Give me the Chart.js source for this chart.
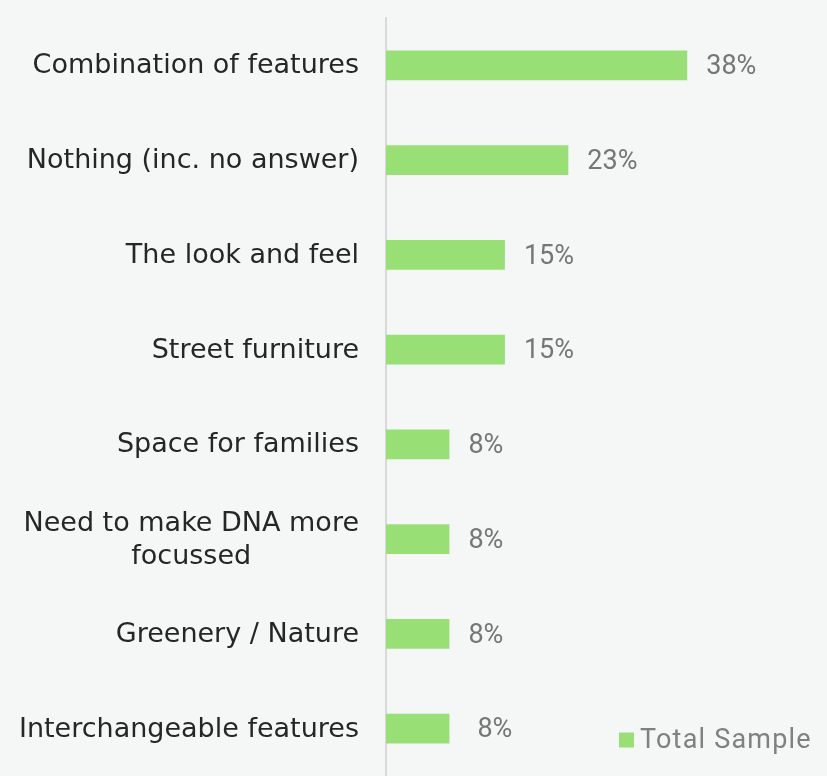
<!DOCTYPE html>
<html>
<head>
<meta charset="utf-8">
<script src="https://cdn.jsdelivr.net/npm/chart.js@4/dist/chart.umd.min.js"></script>
<style>
  html, body { margin: 0; padding: 0; background: #f5f6f6; }
  #wrap { width: 827px; height: 776px; position: relative; }
</style>
</head>
<body>
<div id="wrap"><canvas id="chart"></canvas></div>
<script>
// Survey answers and their share of the total sample (%)
const categories = [
  'Combination of features',
  'Nothing (inc. no answer)',
  'The look and feel',
  'Street furniture',
  'Space for families',
  ['Need to make DNA more', 'focussed'],
  'Greenery / Nature',
  'Interchangeable features'
];
const totalSample = [38, 23, 15, 15, 8, 8, 8, 8];
const seriesName = 'Total Sample';

const BAR_COLOR = '#98e076';
const LABEL_FONT = '"DejaVu Sans", sans-serif';
const VALUE_FONT = 'Roboto, "Liberation Sans", sans-serif';

// Paints the page-coloured background behind everything
const backgroundPlugin = {
  id: 'bg',
  beforeDraw(chart) {
    const { ctx, width, height } = chart;
    ctx.save();
    ctx.fillStyle = '#f5f6f6';
    ctx.fillRect(0, 0, width, height);
    ctx.restore();
  }
};

// Category labels: right-aligned block, each line centred within its block
const categoryLabels = {
  id: 'categoryLabels',
  afterDraw(chart) {
    const { ctx } = chart;
    const y = chart.scales.y;
    const right = y.right - 27;
    const lineH = 33;
    ctx.save();
    ctx.font = '27px ' + LABEL_FONT;
    ctx.fillStyle = '#262626';
    ctx.textAlign = 'left';
    ctx.textBaseline = 'middle';
    categories.forEach((lab, i) => {
      const lines = Array.isArray(lab) ? lab : [lab];
      const widths = lines.map(l => ctx.measureText(l).width);
      const w = Math.max(...widths);
      const cx = right - w / 2;
      const cy = y.getPixelForValue(i) + 1;
      const top = cy - (lines.length - 1) * lineH / 2;
      lines.forEach((l, k) => ctx.fillText(l, cx - widths[k] / 2, top + k * lineH));
    });
    ctx.restore();
  }
};

// Percentage label to the right of each bar
const valueLabels = {
  id: 'valueLabels',
  afterDatasetsDraw(chart) {
    const { ctx } = chart;
    const meta = chart.getDatasetMeta(0);
    ctx.save();
    ctx.font = '27px ' + VALUE_FONT;
    ctx.fillStyle = '#767676';
    ctx.textAlign = 'left';
    ctx.textBaseline = 'middle';
    meta.data.forEach((bar, i) => {
      // the last label sits a little further out, clear of the legend
      const gap = i === meta.data.length - 1 ? 28 : 19;
      ctx.fillText(totalSample[i] + '%', bar.x + gap, bar.y + 2);
    });
    ctx.restore();
  }
};

// Legend drawn in the lower-right corner of the plot
const cornerLegend = {
  id: 'cornerLegend',
  afterDraw(chart) {
    const { ctx } = chart;
    const area = chart.chartArea;
    ctx.save();
    ctx.font = '27px ' + VALUE_FONT;
    ctx.letterSpacing = '1.2px';
    const xText = 640;
    const cy = area.bottom - 36;
    ctx.fillStyle = BAR_COLOR;
    ctx.fillRect(xText - 21, cy - 7.5, 15, 15);
    ctx.fillStyle = '#808080';
    ctx.textAlign = 'left';
    ctx.textBaseline = 'middle';
    ctx.fillText(seriesName, xText, cy + 1);
    ctx.restore();
  }
};

new Chart(document.getElementById('chart'), {
  type: 'bar',
  data: {
    labels: categories,
    datasets: [{
      label: seriesName,
      data: totalSample,
      backgroundColor: BAR_COLOR,
      borderWidth: 0,
      categoryPercentage: 1,
      barPercentage: 0.316
    }]
  },
  options: {
    indexAxis: 'y',
    responsive: true,
    maintainAspectRatio: false,
    animation: false,
    layout: { padding: { top: 18, right: 5, bottom: 0, left: 0 } },
    plugins: {
      legend: { display: false },
      tooltip: { enabled: false }
    },
    scales: {
      x: {
        display: false,
        min: 0,
        max: 55
      },
      y: {
        grid: { display: false },
        border: { display: true, color: '#d9d9d9', width: 2 },
        ticks: { display: false },
        afterFit(scale) { scale.width = 386; }
      }
    }
  },
  plugins: [backgroundPlugin, valueLabels, categoryLabels, cornerLegend]
});
</script>
</body>
</html>
